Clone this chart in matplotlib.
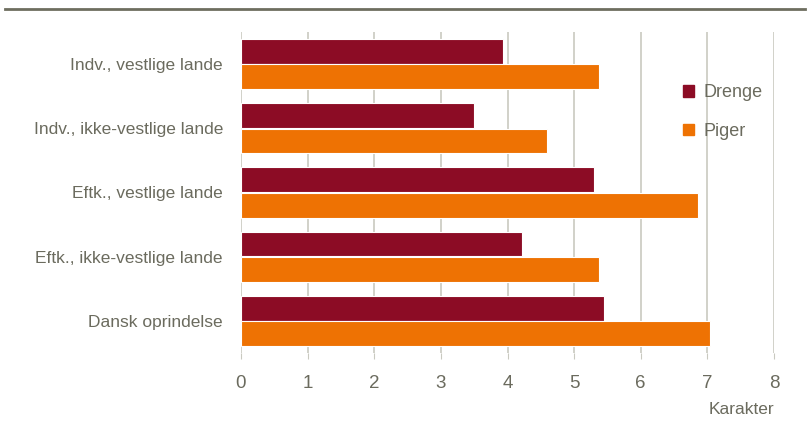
import matplotlib
matplotlib.use("Agg")
import matplotlib.pyplot as plt
import numpy as np
from matplotlib.lines import Line2D
from matplotlib.patches import Patch

categories = ["Indv., vestlige lande", "Indv., ikke-vestlige lande", "Eftk., vestlige lande",
              "Eftk., ikke-vestlige lande", "Dansk oprindelse"]
drenge = [3.93, 3.50, 5.30, 4.22, 5.45]
piger = [5.37, 4.59, 6.86, 5.37, 7.04]
series_names = ["Drenge", "Piger"]
xticks = [0, 1, 2, 3, 4, 5, 6, 7, 8]
xlabel = "Karakter"

c_dr = "#8C0C25"
c_pi = "#EE7203"
txt = "#6B6B5E"
grid = "#C9C9C0"

plt.rcParams['font.family'] = ['Liberation Sans', 'DejaVu Sans']

fig = plt.figure(figsize=(8.08, 4.30), dpi=100)
ax = fig.add_axes([241/808, 1-353/430, (774-241)/808, (353-32)/430])

y = np.arange(len(categories))
h = 0.385
ax.barh(y - h/2 - 0.005, drenge, height=h, color=c_dr, edgecolor="white", linewidth=0.8, zorder=3)
ax.barh(y + h/2 + 0.005, piger, height=h, color=c_pi, edgecolor="white", linewidth=0.8, zorder=3)

ax.set_ylim(len(categories) - 0.5, -0.5)
ax.set_xlim(0, 8)
ax.set_xticks(xticks)
ax.set_xticklabels([str(t) for t in xticks])
ax.set_yticks(y)
ax.set_yticklabels(categories)
for s in ax.spines.values():
    s.set_visible(False)
ax.xaxis.grid(True, color=grid, linewidth=1.2, zorder=0)
ax.set_axisbelow(True)
ax.tick_params(axis='y', length=0, pad=13, labelsize=12.5, labelcolor=txt)
ax.tick_params(axis='x', length=4, color=grid, pad=12, labelsize=13.5, labelcolor=txt)

fig.text(774/808, 1-410/430, xlabel, ha='right', va='center', fontsize=12.5, color=txt)

handles = [Patch(color=c_dr), Patch(color=c_pi)]
leg = fig.legend(handles, series_names, loc='upper left', bbox_to_anchor=(667/808, 1-68/430),
                 frameon=False, fontsize=13, labelcolor=txt, handlelength=0.6, handleheight=0.6,
                 handletextpad=0.5, labelspacing=1.2)

fig.add_artist(Line2D([5/808, 805/808], [1-9/430, 1-9/430], color="#6E6E5F", linewidth=2,
                      transform=fig.transFigure))

fig.savefig("out.png", dpi=100)
